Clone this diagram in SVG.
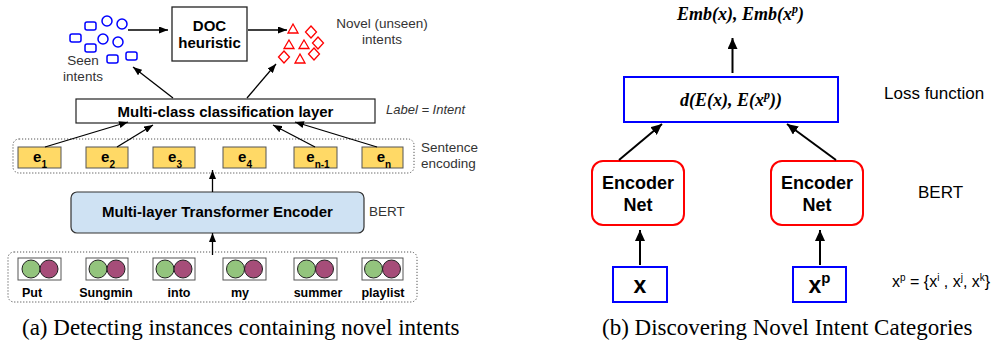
<svg xmlns="http://www.w3.org/2000/svg" width="1002" height="351" viewBox="0 0 1002 351">
<style>
.sans{font-family:"Liberation Sans",Arial,sans-serif}
.b{font-weight:bold}
.lbl{font-family:"Liberation Sans",Arial,sans-serif;fill:#333}
.ser{font-family:"Liberation Serif","Times New Roman",serif}
.dot{fill:none;stroke:#555;stroke-width:1;stroke-dasharray:1.2 1.8}
.ebox{fill:#FFD966;stroke:#555;stroke-width:1}
.wbox{fill:#fff;stroke:#555;stroke-width:1}
.g{fill:#93C47D;stroke:#222;stroke-width:1}
.p{fill:#A64D79;stroke:#222;stroke-width:1}
.seen{fill:none;stroke:#0000FF;stroke-width:1.5}
.nov{fill:none;stroke:#FF0000;stroke-width:1.3}
.c1{stroke:#000;stroke-width:1.3;fill:none}
.c2{stroke:#000;stroke-width:2;fill:none}
.blue{fill:#fff;stroke:#0000FF;stroke-width:2}
.red{fill:#fff;stroke:#FF0000;stroke-width:2}
</style>
<defs>
<marker id="ah" markerUnits="userSpaceOnUse" markerWidth="9" markerHeight="7" refX="9" refY="3.5" orient="auto">
<path d="M0,0 L9,3.5 L0,7 z" fill="#000"/>
</marker>
<marker id="ah2" markerUnits="userSpaceOnUse" markerWidth="11" markerHeight="10" refX="11" refY="5" orient="auto">
<path d="M0,0 L11,5 L0,10 z" fill="#000"/>
</marker>
</defs>
<rect width="1002" height="351" fill="#fff"/>

<!-- Left panel -->
<g id="seen-intents">
<rect class="seen" x="85" y="22" width="11" height="8" rx="2"/>
<rect class="seen" x="70" y="34" width="11" height="8" rx="2"/>
<rect class="seen" x="85" y="44" width="11" height="8" rx="2"/>
<rect class="seen" x="107" y="55" width="11" height="8" rx="2"/>
<rect class="seen" x="126" y="52" width="11" height="8" rx="2"/>
<circle class="seen" cx="107" cy="21" r="5"/>
<circle class="seen" cx="122" cy="24" r="5"/>
<circle class="seen" cx="103" cy="39" r="5"/>
<circle class="seen" cx="118" cy="42" r="5"/>
<text class="lbl" x="83" y="65" font-size="13.5" text-anchor="middle">Seen</text>
<text class="lbl" x="83" y="81" font-size="13.5" text-anchor="middle">intents</text>
</g>

<g id="doc-heuristic">
<rect x="172" y="7" width="75" height="54" fill="#fff" stroke="#222" stroke-width="1.3"/>
<text class="sans b" x="209.5" y="31" font-size="15" text-anchor="middle">DOC</text>
<text class="sans b" x="209.5" y="48" font-size="15" text-anchor="middle">heuristic</text>
</g>

<g id="novel-intents">
<path class="nov" d="M293,24 L298,33 L288,33 z"/>
<path class="nov" d="M289,40 L294,48.5 L284,48.5 z"/>
<path class="nov" d="M304,40 L309,48.5 L299,48.5 z"/>
<path class="nov" d="M300,54 L305,63 L295,63 z"/>
<path class="nov" d="M311,26 L316.5,32 L311,38 L305.5,32 z"/>
<path class="nov" d="M318,37 L323.5,43 L318,49 L312.5,43 z"/>
<path class="nov" d="M314,48 L319.5,54 L314,60 L308.5,54 z"/>
<path class="nov" d="M284,51 L289.5,57 L284,63 L278.5,57 z"/>
<text class="lbl" x="382" y="28" font-size="13.5" text-anchor="middle">Novel (unseen)</text>
<text class="lbl" x="382" y="44" font-size="13.5" text-anchor="middle">intents</text>
</g>

<g id="classification-layer">
<rect x="76" y="99" width="299" height="24" fill="#fff" stroke="#222" stroke-width="1.2"/>
<text class="sans b" x="225.5" y="117" font-size="15" text-anchor="middle">Multi-class classification layer</text>
<text class="lbl" x="386" y="114" font-size="13" font-style="italic">Label = Intent</text>
</g>

<g id="sentence-encoding">
<rect class="dot" x="13" y="139" width="401" height="34" rx="6"/>
<rect class="ebox" x="18" y="147" width="43" height="21"/>
<rect class="ebox" x="86" y="147" width="42" height="21"/>
<rect class="ebox" x="153" y="147" width="42" height="21"/>
<rect class="ebox" x="223" y="147" width="43" height="21"/>
<rect class="ebox" x="294" y="147" width="43" height="21"/>
<rect class="ebox" x="362" y="147" width="41" height="21"/>
<g class="sans b" font-size="15" text-anchor="middle">
<text x="40" y="162">e<tspan font-size="10" dy="6">1</tspan></text>
<text x="108" y="162">e<tspan font-size="10" dy="6">2</tspan></text>
<text x="175" y="162">e<tspan font-size="10" dy="6">3</tspan></text>
<text x="245" y="162">e<tspan font-size="10" dy="6">4</tspan></text>
<text x="318" y="162">e<tspan font-size="10" dy="6">n-1</tspan></text>
<text x="384" y="162">e<tspan font-size="10" dy="6">n</tspan></text>
</g>
<text class="lbl" x="421" y="152" font-size="13.5">Sentence</text>
<text class="lbl" x="421" y="168" font-size="13.5">encoding</text>
</g>

<g id="transformer-encoder">
<rect x="71" y="192" width="293" height="41" rx="6" fill="#CFE2F3" stroke="#333" stroke-width="1.2"/>
<text class="sans b" x="217.5" y="217" font-size="15" text-anchor="middle">Multi-layer Transformer Encoder</text>
<text class="lbl" x="369" y="216" font-size="13.5">BERT</text>
</g>

<g id="input-words">
<rect class="dot" x="8" y="252" width="409" height="50" rx="6"/>
<rect class="wbox" x="18" y="258" width="43" height="22"/>
<rect class="wbox" x="86" y="258" width="42" height="22"/>
<rect class="wbox" x="153" y="258" width="42" height="22"/>
<rect class="wbox" x="223" y="258" width="43" height="22"/>
<rect class="wbox" x="294" y="258" width="43" height="22"/>
<rect class="wbox" x="362" y="258" width="41" height="22"/>
<circle class="g" cx="31" cy="269" r="9"/><circle class="p" cx="49" cy="269" r="9"/>
<circle class="g" cx="98" cy="269" r="9"/><circle class="p" cx="116" cy="269" r="9"/>
<circle class="g" cx="165" cy="269" r="9"/><circle class="p" cx="183" cy="269" r="9"/>
<circle class="g" cx="235.5" cy="269" r="9"/><circle class="p" cx="253.5" cy="269" r="9"/>
<circle class="g" cx="306.5" cy="269" r="9"/><circle class="p" cx="324.5" cy="269" r="9"/>
<circle class="g" cx="373.5" cy="269" r="9"/><circle class="p" cx="391.5" cy="269" r="9"/>
<g class="sans b" font-size="12.5" text-anchor="middle">
<text x="32" y="297">Put</text>
<text x="106" y="297">Sungmin</text>
<text x="179" y="297">into</text>
<text x="240" y="297">my</text>
<text x="318" y="297">summer</text>
<text x="383" y="297">playlist</text>
</g>
</g>

<text class="ser" x="22" y="335" font-size="23">(a) Detecting instances containing novel intents</text>

<!-- Right panel -->
<g id="embedding-output">
<text class="ser" x="740.5" y="20" font-size="18" font-weight="bold" font-style="italic" text-anchor="middle">Emb(x), Emb(x<tspan font-size="12" dy="-7">p</tspan><tspan dy="7">)</tspan></text>
</g>

<g id="loss-function">
<rect class="blue" x="624" y="77" width="214" height="45"/>
<text class="ser" x="731" y="106" font-size="18" font-weight="bold" font-style="italic" text-anchor="middle">d(E(x), E(x<tspan font-size="12" dy="-7">p</tspan><tspan dy="7">))</tspan></text>
<text class="sans" x="884" y="99" font-size="17">Loss function</text>
</g>

<g id="encoder-left">
<rect class="red" x="592" y="161" width="92" height="64" rx="11"/>
<text class="sans b" x="638" y="189" font-size="18" text-anchor="middle">Encoder</text>
<text class="sans b" x="638" y="211" font-size="18" text-anchor="middle">Net</text>
</g>

<g id="encoder-right">
<rect class="red" x="771" y="161" width="92" height="64" rx="11"/>
<text class="sans b" x="817" y="189" font-size="18" text-anchor="middle">Encoder</text>
<text class="sans b" x="817" y="211" font-size="18" text-anchor="middle">Net</text>
<text class="sans" x="918" y="198" font-size="17">BERT</text>
</g>

<g id="input-x">
<rect class="blue" x="613" y="267" width="54" height="35"/>
<text class="sans b" x="640" y="293" font-size="23" text-anchor="middle">x</text>
</g>

<g id="input-xp">
<rect class="blue" x="793" y="267" width="53" height="35"/>
<text class="sans b" x="819.5" y="293" font-size="23" text-anchor="middle">x<tspan font-size="15" dy="-10">p</tspan></text>
<text class="sans" x="892" y="287" font-size="16">x<tspan font-size="10" dy="-6">p</tspan><tspan dy="6"> = {x</tspan><tspan font-size="10" dy="-6">i</tspan><tspan dy="6"> , x</tspan><tspan font-size="10" dy="-6">j</tspan><tspan dy="6">, x</tspan><tspan font-size="10" dy="-6">k</tspan><tspan dy="6">}</tspan></text>
</g>

<text class="ser" x="602" y="335" font-size="23">(b) Discovering Novel Intent Categories</text>

<g id="connectors">
<line class="c1" x1="128" y1="30" x2="168" y2="30" marker-end="url(#ah)"/>
<line class="c1" x1="248" y1="30" x2="287" y2="30" marker-end="url(#ah)"/>
<line class="c1" x1="173" y1="98" x2="133" y2="67" marker-end="url(#ah)"/>
<line class="c1" x1="247" y1="98" x2="276" y2="64" marker-end="url(#ah)"/>
<line class="c1" x1="45" y1="147" x2="128" y2="122" marker-end="url(#ah)"/>
<line class="c1" x1="117" y1="147" x2="153" y2="125" marker-end="url(#ah)"/>
<line class="c1" x1="315" y1="147" x2="273" y2="125" marker-end="url(#ah)"/>
<line class="c1" x1="377" y1="147" x2="295" y2="122" marker-end="url(#ah)"/>
<line class="c1" x1="212.5" y1="192" x2="212.5" y2="170" marker-end="url(#ah)"/>
<line class="c1" x1="212.5" y1="255" x2="212.5" y2="233" marker-end="url(#ah)"/>
<line class="c2" x1="732.5" y1="73" x2="732.5" y2="38" marker-end="url(#ah2)"/>
<line class="c2" x1="619" y1="160" x2="662" y2="124" marker-end="url(#ah2)"/>
<line class="c2" x1="836" y1="160" x2="787" y2="124" marker-end="url(#ah2)"/>
<line class="c2" x1="640" y1="265" x2="640" y2="230" marker-end="url(#ah2)"/>
<line class="c2" x1="820" y1="265" x2="820" y2="230" marker-end="url(#ah2)"/>
</g>
</svg>
